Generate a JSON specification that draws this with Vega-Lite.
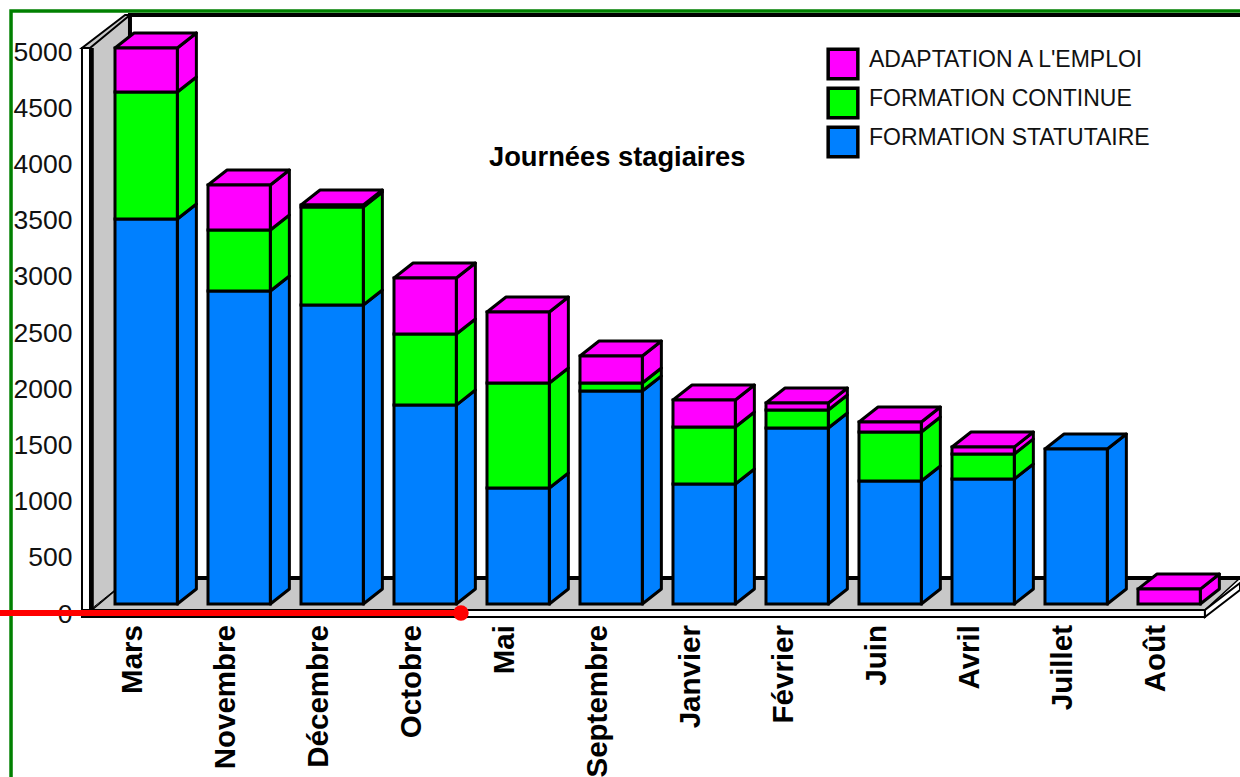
{
"$schema":"https://vega.github.io/schema/vega-lite/v6.json",
"width":1240,"height":777,"padding":0,"autosize":{"type":"none"},
"background":"white",
"title":{"text":"Journées stagiaires","anchor":"start","frame":"group","dx":489,"dy":171,"font":"Liberation Sans","fontSize":27.3,"fontWeight":"bold","color":"black","offset":0},
"config":{"view":{"stroke":null}},
"datasets":{"donnees":[
{"mois":"Mars","rang":1,"serie":"FORMATION STATUTAIRE","valeur":3425},{"mois":"Mars","rang":1,"serie":"FORMATION CONTINUE","valeur":1130},{"mois":"Mars","rang":1,"serie":"ADAPTATION A L'EMPLOI","valeur":392},
{"mois":"Novembre","rang":2,"serie":"FORMATION STATUTAIRE","valeur":2785},{"mois":"Novembre","rang":2,"serie":"FORMATION CONTINUE","valeur":542},{"mois":"Novembre","rang":2,"serie":"ADAPTATION A L'EMPLOI","valeur":401},
{"mois":"Décembre","rang":3,"serie":"FORMATION STATUTAIRE","valeur":2660},{"mois":"Décembre","rang":3,"serie":"FORMATION CONTINUE","valeur":872},{"mois":"Décembre","rang":3,"serie":"ADAPTATION A L'EMPLOI","valeur":18},
{"mois":"Octobre","rang":4,"serie":"FORMATION STATUTAIRE","valeur":1770},{"mois":"Octobre","rang":4,"serie":"FORMATION CONTINUE","valeur":632},{"mois":"Octobre","rang":4,"serie":"ADAPTATION A L'EMPLOI","valeur":498},
{"mois":"Mai","rang":5,"serie":"FORMATION STATUTAIRE","valeur":1032},{"mois":"Mai","rang":5,"serie":"FORMATION CONTINUE","valeur":934},{"mois":"Mai","rang":5,"serie":"ADAPTATION A L'EMPLOI","valeur":632},
{"mois":"Septembre","rang":6,"serie":"FORMATION STATUTAIRE","valeur":1895},{"mois":"Septembre","rang":6,"serie":"FORMATION CONTINUE","valeur":71},{"mois":"Septembre","rang":6,"serie":"ADAPTATION A L'EMPLOI","valeur":240},
{"mois":"Janvier","rang":7,"serie":"FORMATION STATUTAIRE","valeur":1068},{"mois":"Janvier","rang":7,"serie":"FORMATION CONTINUE","valeur":507},{"mois":"Janvier","rang":7,"serie":"ADAPTATION A L'EMPLOI","valeur":240},
{"mois":"Février","rang":8,"serie":"FORMATION STATUTAIRE","valeur":1566},{"mois":"Février","rang":8,"serie":"FORMATION CONTINUE","valeur":160},{"mois":"Février","rang":8,"serie":"ADAPTATION A L'EMPLOI","valeur":62},
{"mois":"Juin","rang":9,"serie":"FORMATION STATUTAIRE","valeur":1094},{"mois":"Juin","rang":9,"serie":"FORMATION CONTINUE","valeur":436},{"mois":"Juin","rang":9,"serie":"ADAPTATION A L'EMPLOI","valeur":89},
{"mois":"Avril","rang":10,"serie":"FORMATION STATUTAIRE","valeur":1112},{"mois":"Avril","rang":10,"serie":"FORMATION CONTINUE","valeur":223},{"mois":"Avril","rang":10,"serie":"ADAPTATION A L'EMPLOI","valeur":62},
{"mois":"Juillet","rang":11,"serie":"FORMATION STATUTAIRE","valeur":1379},
{"mois":"Août","rang":12,"serie":"ADAPTATION A L'EMPLOI","valeur":133}
]},
"encoding":{
"x":{"field":"x","type":"quantitative","axis":null,"scale":{"domain":[-0.2366,13.097],"nice":false,"zero":false}},
"y":{"field":"y","type":"quantitative","scale":{"domain":[-1539.1,5373.7],"nice":false,"zero":false},
"axis":{"title":null,"format":"d","values":[0,500,1000,1500,2000,2500,3000,3500,4000,4500,5000],"domain":false,"ticks":false,"grid":false,"offset":-72,"labelOffset":10,"labelPadding":0,"labelFont":"Liberation Sans","labelFontSize":26.5,"labelColor":"#111111"}}
},
"layer":[
{"data":{"values":[{"x":0.731,"x2":0.731,"y":-53,"y2":4947},{"x":1.161,"y":231,"y2":5240}]},
 "mark":{"type":"area","fill":"#C8C8C8","stroke":"black","strokeWidth":1},"encoding":{"y2":{"field":"y2"}}},
{"data":{"values":[{"x":0.753,"x2":12.72,"y":-53},{"x":1.161,"x2":13.097,"y":231}]},
 "mark":{"type":"area","orient":"horizontal","fill":"#C8C8C8","stroke":"black","strokeWidth":1.5},"encoding":{"x2":{"field":"x2"}}},
{"data":{"values":[{"i":1,"x":13.097,"y":5240},{"i":2,"x":1.161,"y":5240},{"i":3,"x":1.161,"y":231},{"i":4,"x":13.097,"y":231}]},
 "mark":{"type":"line","stroke":"black","strokeWidth":4},"encoding":{"order":{"field":"i"}}},
{"data":{"values":[{"x":0.645,"x2":0.731,"y":4947},{"x":1.108,"x2":1.161,"y":5240}]},
 "mark":{"type":"area","orient":"horizontal","fill":"#C8C8C8","stroke":"black","strokeWidth":2},"encoding":{"x2":{"field":"x2"}}},
{"data":{"values":[{"x":0.645,"x2":0.731,"y":-115,"y2":4947}]},
 "mark":{"type":"rect","fill":"white","stroke":"black","strokeWidth":2},"encoding":{"x2":{"field":"x2"},"y2":{"field":"y2"}}},
{"data":{"values":[{"i":1,"x":0.753,"y":4947},{"i":2,"x":0.753,"y":-53}]},
 "mark":{"type":"line","stroke":"black","strokeWidth":3.5},"encoding":{"order":{"field":"i"}}},
{"data":{"values":[{"x":0.645,"x2":12.72,"y":-115,"y2":-53}]},
 "mark":{"type":"rect","fill":"white","stroke":"black","strokeWidth":2},"encoding":{"x2":{"field":"x2"},"y2":{"field":"y2"}}},
{"data":{"values":[{"x":12.72,"y":-115,"y2":-53},{"x":13.097,"y":125,"y2":187}]},
 "mark":{"type":"area","fill":"white","stroke":"black","strokeWidth":2},"encoding":{"y2":{"field":"y2"}}},
{"data":{"name":"donnees"},
 "transform":[
  {"stack":"valeur","groupby":["mois"],"sort":[{"field":"serie","order":"descending"}],"as":["bas","haut"]},
  {"calculate":"[0,1]","as":"cote"},{"flatten":["cote"]},
  {"calculate":"datum.rang+0.67+0.205*datum.cote","as":"x"},
  {"calculate":"datum.haut+133.5*datum.cote","as":"y"},
  {"calculate":"datum.bas+133.5*datum.cote","as":"y2"}],
 "mark":{"type":"area","stroke":"black","strokeWidth":3,"strokeJoin":"round"},
 "encoding":{"y2":{"field":"y2"},"detail":{"field":"mois"},"color":{"field":"serie","type":"nominal","scale":{"domain":["ADAPTATION A L'EMPLOI","FORMATION CONTINUE","FORMATION STATUTAIRE"],"range":["#FF00FF","#00FF00","#0080FF"]},"legend":{"title":null,"orient":"none","legendX":826,"legendY":47,"symbolType":"square","symbolSize":880,"symbolStrokeColor":"black","symbolStrokeWidth":3.5,"labelFont":"Liberation Sans","labelFontSize":23,"labelColor":"#111111","labelLimit":400,"labelOffset":9,"rowPadding":-5,"encode":{"labels":{"update":{"dy":{"value":-4}}}}}}}},
{"data":{"name":"donnees"},
 "transform":[
  {"stack":"valeur","groupby":["mois"],"sort":[{"field":"serie","order":"descending"}],"as":["bas","haut"]},
  {"joinaggregate":[{"op":"max","field":"haut","as":"sommet"}],"groupby":["mois"]},
  {"filter":"datum.haut==datum.sommet"},
  {"calculate":"[0,1]","as":"cote"},{"flatten":["cote"]},
  {"calculate":"datum.rang+0.205*datum.cote","as":"x"},
  {"calculate":"datum.rang+0.67+0.205*datum.cote","as":"x2"},
  {"calculate":"datum.haut+133.5*datum.cote","as":"y"}],
 "mark":{"type":"area","orient":"horizontal","stroke":"black","strokeWidth":3,"strokeJoin":"round"},
 "encoding":{"x2":{"field":"x2"},"detail":{"field":"mois"},"color":{"field":"serie","type":"nominal"}}},
{"data":{"name":"donnees"},
 "transform":[
  {"stack":"valeur","groupby":["mois"],"sort":[{"field":"serie","order":"descending"}],"as":["bas","haut"]},
  {"calculate":"datum.rang","as":"x"},{"calculate":"datum.rang+0.67","as":"x2"},
  {"calculate":"datum.bas","as":"y2"},{"calculate":"datum.haut","as":"y"}],
 "mark":{"type":"rect","stroke":"black","strokeWidth":3},
 "encoding":{"x2":{"field":"x2"},"y2":{"field":"y2"},"color":{"field":"serie","type":"nominal"}}},
{"data":{"name":"donnees"},
 "transform":[
  {"stack":"valeur","groupby":["mois"],"sort":[{"field":"serie","order":"descending"}],"as":["bas","haut"]},
  {"joinaggregate":[{"op":"max","field":"haut","as":"sommet"}],"groupby":["mois"]},
  {"filter":"datum.haut==datum.sommet"},
  {"calculate":"datum.rang+0.19","as":"x"},{"calculate":"-187","as":"y"}],
 "mark":{"type":"text","angle":270,"align":"right","baseline":"middle","font":"Liberation Sans","fontWeight":"bold","fontSize":29.5,"color":"black"},
 "encoding":{"text":{"field":"mois"}}},
{"data":{"values":[{"i":1,"x":-0.118,"y":-1539},{"i":2,"x":-0.118,"y":5276},{"i":3,"x":13.097,"y":5276}]},
 "mark":{"type":"line","stroke":"#008000","strokeWidth":3.5},"encoding":{"order":{"field":"i"}}},
{"data":{"values":[{"i":1,"x":-0.2366,"y":-80},{"i":2,"x":4.72,"y":-80}]},
 "mark":{"type":"line","stroke":"#FF0000","strokeWidth":6},"encoding":{"order":{"field":"i"}}},
{"data":{"values":[{"x":4.72,"y":-80}]},
 "mark":{"type":"point","filled":true,"fill":"#FF0000","size":240,"opacity":1}}
]
}
